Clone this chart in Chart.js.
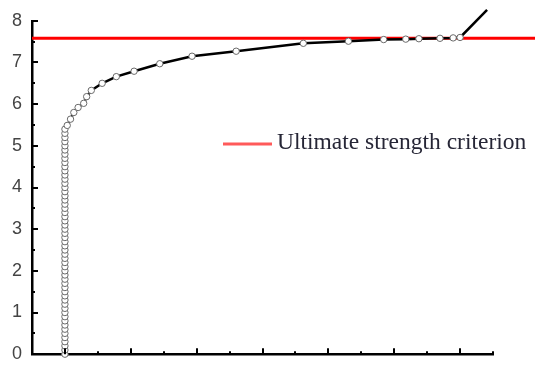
<!DOCTYPE html>
<html>
<head>
<meta charset="utf-8">
<script src="https://cdn.jsdelivr.net/npm/chart.js@4.4.1/dist/chart.umd.min.js"></script>
<style>
  body { margin: 0; background: #fff; }
</style>
</head>
<body>
<canvas id="curveChart" width="535" height="375"></canvas>
<script>
// curva (columna vertical + curva hasta el criterio)
const colY = [0, 0.1, 0.2, 0.3, 0.4, 0.5, 0.6, 0.7, 0.8, 0.9,
  1.0, 1.1, 1.2, 1.3, 1.4, 1.5, 1.6, 1.7, 1.8, 1.9,
  2.0, 2.1, 2.2, 2.3, 2.4, 2.5, 2.6, 2.7, 2.8, 2.9,
  3.0, 3.1, 3.2, 3.3, 3.4, 3.5, 3.6, 3.7, 3.8, 3.9,
  4.0, 4.1, 4.2, 4.3, 4.4, 4.5, 4.6, 4.7, 4.8, 4.9,
  5.0, 5.1, 5.2, 5.3, 5.4];
const colX = 0;

const curveX = [0.07, 0.17, 0.27, 0.40, 0.57, 0.66, 0.80, 1.13, 1.56, 2.10, 2.88, 3.86, 5.20, 7.24, 8.61, 9.68, 10.35, 10.75, 11.39, 11.79, 12.0, 12.82];
const curveY = [5.49, 5.64, 5.80, 5.92, 6.02, 6.18, 6.33, 6.50, 6.66, 6.79, 6.97, 7.15, 7.27, 7.46, 7.51, 7.55, 7.56, 7.57, 7.58, 7.59, 7.60, 8.26];

const criterion = 7.58;
const criterionX = [-1, 14.4];
const legendLabel = "Ultimate strength criterion";

const yTicks = [0, 1, 2, 3, 4, 5, 6, 7, 8];

// armar puntos
const points = [];
colY.forEach(y => points.push({ x: colX, y: y }));
curveX.forEach((x, i) => points.push({ x: x, y: curveY[i] }));

const redLine = criterionX.map(x => ({ x: x, y: criterion }));

// ticks hacia adentro + leyenda
const innerTicks = {
  id: 'innerTicks',
  afterDraw(chart) {
    const c = chart.ctx;
    const xs = chart.scales.x;
    const ys = chart.scales.y;
    c.save();
    c.strokeStyle = '#000';
    c.lineWidth = 2;
    for (let v = 0; v <= 8; v += 0.5) {
      const py = Math.round(ys.getPixelForValue(v));
      const len = Number.isInteger(v) ? 6 : 3;
      c.beginPath();
      c.moveTo(xs.left, py);
      c.lineTo(xs.left + len, py);
      c.stroke();
    }
    for (let v = -1; v <= 13; v += 1) {
      const px = Math.round(xs.getPixelForValue(v));
      const len = (v % 2 === 0) ? 6 : 3;
      c.beginPath();
      c.moveTo(px, ys.bottom);
      c.lineTo(px, ys.bottom - len);
      c.stroke();
    }

    // leyenda
    c.strokeStyle = '#ff5a5a';
    c.lineWidth = 3;
    c.beginPath();
    c.moveTo(223, 144);
    c.lineTo(272, 144);
    c.stroke();
    c.fillStyle = '#262636';
    c.font = '23.5px "Liberation Serif", "Times New Roman", serif';
    c.textBaseline = 'middle';
    c.fillText(legendLabel, 277, 143);
    c.restore();
  }
};

new Chart(document.getElementById('curveChart'), {
  type: 'scatter',
  data: {
    datasets: [{
      label: legendLabel,
      data: redLine,
      showLine: true,
      borderColor: '#ff0000',
      borderWidth: 3,
      pointRadius: 0,
      clip: false,
      order: 2
    }, {
      label: 'curve',
      data: points,
      showLine: true,
      borderColor: '#000',
      borderWidth: 2.5,
      pointRadius: ctx => ctx.dataIndex === points.length - 1 ? 0 : 3.2,
      pointBackgroundColor: '#fff',
      pointBorderColor: '#6a6a6a',
      pointBorderWidth: 1,
      clip: false,
      order: 1
    }]
  },
  options: {
    responsive: false,
    animation: false,
    layout: { padding: { top: 16, right: 42, left: 0, bottom: 0 } },
    plugins: {
      legend: { display: false },
      tooltip: { enabled: false }
    },
    scales: {
      x: {
        type: 'linear',
        min: -1,
        max: 13,
        ticks: { display: false },
        grid: { display: false, drawTicks: false },
        border: { display: true, color: '#000', width: 2.5 },
        afterFit: s => { s.height = 17; }
      },
      y: {
        min: 0,
        max: 8,
        afterBuildTicks: s => { s.ticks = yTicks.map(v => ({ value: v })); },
        ticks: {
          color: '#444',
          padding: 10,
          font: { family: '"Liberation Sans", Arial, sans-serif', size: 18 }
        },
        grid: { display: false, drawTicks: false },
        border: { display: true, color: '#000', width: 2.5 },
        afterFit: s => { s.width = 32; }
      }
    }
  },
  plugins: [innerTicks]
});
</script>
</body>
</html>
